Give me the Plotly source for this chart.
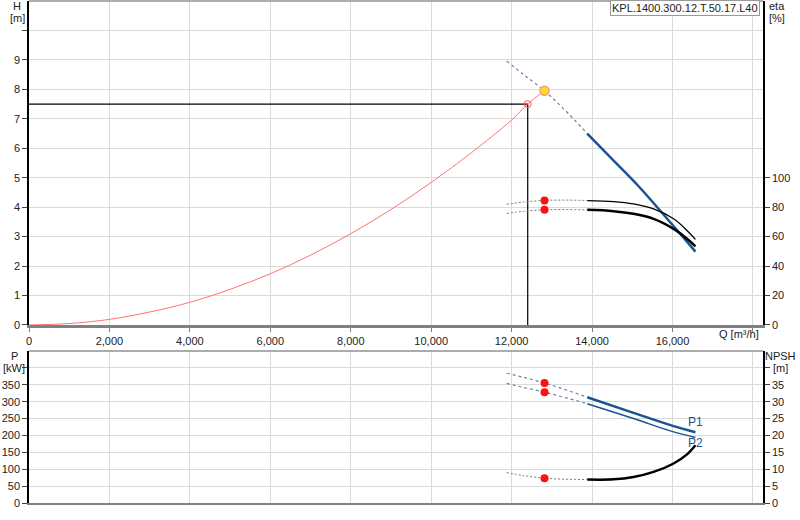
import plotly.graph_objects as go

# curve data
q_sys = [0, 1000, 2000, 3000, 4000, 5000, 6000, 7000, 8000, 9000, 10000, 11000, 12000, 12400, 12818]
h_sys = [0, 0.05, 0.19, 0.44, 0.77, 1.21, 1.74, 2.37, 3.1, 3.92, 4.84, 5.85, 6.96, 7.5, 7.95]

q_ext = [11876, 12300, 12818, 13300, 13880]
q_run = [13880, 14535, 15030, 15530, 16027, 16360, 16570]

h_ext = [8.96, 8.5, 7.95, 7.33, 6.5]
q_h = [13880, 14500, 15157, 15878, 16570]
h_run = [6.5, 5.63, 4.71, 3.59, 2.49]

eta1_ext = [82.0, 83.5, 84.6, 84.8, 84.5]
eta1_run = [84.5, 83.8, 82.2, 78.8, 72.1, 64.2, 58.1]
eta2_ext = [75.7, 77.2, 78.2, 78.4, 78.2]
eta2_run = [78.2, 77.3, 75.5, 72.1, 65.3, 58.6, 53.4]

q_p = [13880, 15030, 16027, 16570]
p1_ext = [384, 372, 355, 337, 313]
p1_run = [313, 267, 227.5, 209.5]
p2_ext = [354, 342, 328, 313, 294]
p2_run = [294, 250, 210.5, 194]

npsh_ext = [9.0, 8.1, 7.35, 7.05, 6.95]
npsh_run = [6.95, 7.0, 7.7, 9.2, 11.7, 14.4, 17.1]

duty_q, duty_h = 12400, 7.5
op_q, op_h = 12818, 7.95
op_eta = [84.6, 78.2]
op_p = [355, 328]
op_npsh = 7.35

x_ticks = [0, 2000, 4000, 6000, 8000, 10000, 12000, 14000, 16000, 18000]
x_labels = ["0", "2,000", "4,000", "6,000", "8,000", "10,000", "12,000", "14,000", "16,000", ""]
h_ticks = list(range(0, 11))
eta_ticks = [0, 20, 40, 60, 80, 100]
p_ticks = [0, 50, 100, 150, 200, 250, 300, 350, 400]
npsh_ticks = [0, 5, 10, 15, 20, 25, 30, 35, 40]

BLUE = "#1a5490"
GRID = "#dadada"
FONT = dict(family="Liberation Sans, Arial", size=11, color="#222")


def px(x):
    return (x - 29) / 734


def py(y):
    return (503 - y) / 502


fig = go.Figure()


def line(x, y, xa, ya, color, width, dash=None, shape="spline"):
    fig.add_trace(go.Scatter(x=x, y=y, xaxis=xa, yaxis=ya, mode="lines",
                             line=dict(color=color, width=width, dash=dash, shape=shape),
                             hoverinfo="skip", showlegend=False))


def dots(x, y, xa, ya, **marker):
    fig.add_trace(go.Scatter(x=x, y=y, xaxis=xa, yaxis=ya, mode="markers",
                             marker=marker, hoverinfo="skip", showlegend=False))


# top chart: H and eta
line([0, duty_q, duty_q], [duty_h, duty_h, 0], "x", "y", "black", 1.2, shape="linear")
line(q_sys, h_sys, "x", "y", "#ff7373", 1)
line(q_ext, h_ext, "x", "y", "#7383a3", 1.2, "dot")
line(q_h, h_run, "x", "y", BLUE, 2.5)
line(q_ext, eta1_ext, "x", "y2", "#777", 1, "2px,2px")
line(q_run, eta1_run, "x", "y2", "black", 1.3)
line(q_ext, eta2_ext, "x", "y2", "#777", 1, "2px,2px")
line(q_run, eta2_run, "x", "y2", "black", 2.5)
dots([duty_q], [duty_h], "x", "y", symbol="circle-open", size=7, color="#ff5050")
dots([op_q], [op_h], "x", "y", size=9, color="#ffdc1e", line=dict(color="#f0a070", width=1.5))
dots([op_q, op_q], op_eta, "x", "y2", size=8, color="#ff1010")

# bottom chart: P and NPSH
line(q_ext, p1_ext, "x2", "y3", "#7383a3", 1.2, "dot")
line(q_p, p1_run, "x2", "y3", BLUE, 2.5)
line(q_ext, p2_ext, "x2", "y3", "#7383a3", 1.2, "dot")
line(q_p, p2_run, "x2", "y3", BLUE, 1.5)
line(q_ext, npsh_ext, "x2", "y4", "#777", 1, "2px,2px")
line(q_run, npsh_run, "x2", "y4", "black", 2.5)
dots([op_q, op_q], op_p, "x2", "y3", size=8, color="#ff1010")
dots([op_q], [op_npsh], "x2", "y4", size=8, color="#ff1010")

xcommon = dict(range=[0, 18250], tickvals=x_ticks, showgrid=True, gridcolor=GRID,
               zeroline=False, showline=True, linecolor="#808080", linewidth=2.5,
               tickfont=FONT, automargin=False)
ycommon = dict(showgrid=True, gridcolor=GRID, zeroline=False, showline=True,
               linecolor="black", linewidth=1.5, ticks="outside", ticklen=5,
               tickcolor="#444", tickfont=FONT, automargin=False)

fig.update_layout(
    width=800, height=520,
    margin=dict(l=29, r=37, t=1, b=17, autoexpand=False),
    paper_bgcolor="white", plot_bgcolor="white",
    font=FONT, showlegend=False,
    xaxis=dict(xcommon, domain=[0, 1], anchor="y", ticktext=x_labels,
               ticks="outside", ticklen=4, tickcolor="#808080"),
    yaxis=dict(ycommon, domain=[0.3546, 1], anchor="x", range=[0, 11],
               tickvals=h_ticks, ticktext=[str(t) for t in h_ticks[:-1]] + [""]),
    yaxis2=dict(ycommon, overlaying="y", side="right", anchor="x", range=[0, 220],
                tickvals=eta_ticks, showgrid=False),
    xaxis2=dict(xcommon, domain=[0, 1], anchor="y3", showticklabels=False, linewidth=2),
    yaxis3=dict(ycommon, domain=[0, 0.3028], anchor="x2", range=[0, 450],
                tickvals=p_ticks, ticktext=[str(t) for t in p_ticks[:-1]] + [""]),
    yaxis4=dict(ycommon, overlaying="y3", side="right", anchor="x2", range=[0, 45],
                tickvals=npsh_ticks, ticktext=[str(t) for t in npsh_ticks[:-1]] + [""],
                showgrid=False),
)

# grey top borders of both panels
for xref, yref in [("x domain", "y domain"), ("x2 domain", "y3 domain")]:
    fig.add_shape(type="line", xref=xref, yref=yref, x0=0, x1=1, y0=1, y1=1,
                  line=dict(color="#909090", width=1.5))

notes = [
    ("H", 17, 6, "center"), ("[m]", 17, 18, "center"),
    ("eta", 767, 6, "left"), ("[%]", 767, 18, "left"),
    ("P", 14, 356, "center"), ("[kW]", 14, 368, "center"),
    ("NPSH", 780, 356, "center"), ("[m]", 780, 368, "center"),
    ("Q [m³/h]", 739, 334, "center"),
]
for text, x, y, anchor in notes:
    fig.add_annotation(text=text, xref="paper", yref="paper", x=px(x), y=py(y),
                       xanchor=anchor, yanchor="middle", showarrow=False, font=FONT)

for text, y in [("P1", 422), ("P2", 443)]:
    fig.add_annotation(text=text, xref="paper", yref="paper", x=px(695), y=py(y),
                       xanchor="center", yanchor="middle", showarrow=False,
                       font=dict(FONT, color=BLUE, size=12))

fig.add_annotation(text="KPL.1400.300.12.T.50.17.L40", xref="paper", yref="paper",
                   x=px(760), y=py(0), xanchor="right", yanchor="top", showarrow=False,
                   font=FONT, bgcolor="white", bordercolor="#999", borderwidth=1, borderpad=1)

# page body has a default 8px margin; drop it so the figure sits at the corner
fig.write_html("out.html", config={"displayModeBar": False},
               post_script="document.body.style.margin='0';")
